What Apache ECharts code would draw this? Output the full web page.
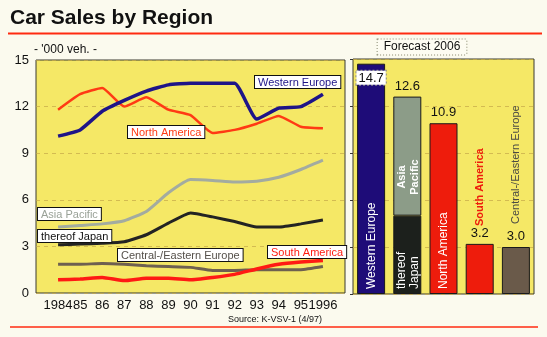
<!DOCTYPE html>
<html>
<head>
<meta charset="utf-8">
<script src="https://cdn.jsdelivr.net/npm/echarts@6/dist/echarts.min.js"></script>
<style>
html,body{margin:0;padding:0;background:#fbfaee;}
#c{width:547px;height:337px;}
</style>
</head>
<body>
<div id="c"></div>
<script>
// ---- data ----
const years = [1984, 1985, 1986, 1987, 1988, 1989, 1990, 1991, 1992, 1993, 1994, 1995, 1996];
const westernEurope = [10.1, 10.5, 11.7, 12.4, 13.0, 13.4, 13.5, 13.5, 13.5, 11.2, 11.9, 12.0, 12.8];
const northAmerica = [11.8, 12.8, 13.2, 12.0, 12.6, 11.8, 11.45, 10.3, 10.5, 10.9, 11.4, 10.7, 10.6];
const asiaPacific = [4.25, 4.35, 4.45, 4.65, 5.25, 6.45, 7.3, 7.25, 7.15, 7.2, 7.45, 7.95, 8.55];
const thereofJapan = [3.1, 3.15, 3.2, 3.3, 3.75, 4.5, 5.15, 4.9, 4.6, 4.25, 4.25, 4.45, 4.7];
const centralEastern = [1.85, 1.85, 1.9, 1.85, 1.75, 1.7, 1.65, 1.45, 1.45, 1.5, 1.5, 1.5, 1.7];
const southAmerica = [0.85, 0.9, 1.0, 0.8, 0.95, 0.95, 0.85, 1.0, 1.2, 1.55, 1.85, 2.0, 2.1];
const yTicks = [0, 3, 6, 9, 12, 15];

const forecastRegions = ['Western Europe', 'Asia Pacific', 'North America', 'South America', 'Central-/Eastern Europe'];
const forecast2006 = [14.7, 12.6, 10.9, 3.2, 3.0];
const forecastJapan2006 = 5.0;

// ---- styling ----
const FONT = 'Liberation Sans, Arial, sans-serif';
const YELLOW = '#f5e866';
const C = {
  we: '#1e1488', na: '#ff3a14', ap: '#a3aba0', jp: '#232323', ce: '#6e6050', sa: '#ff1a14',
  weBar: '#1e0c78', apBar: '#8c9c88', jpBar: '#1c201c', naBar: '#ee1c0c', saBar: '#ee1c0c', ceBar: '#6a5a4a'
};

const pairs = arr => arr.map((v, i) => [years[i], v]);
const lineSeries = (name, data, color, width) => ({
  name, type: 'line', xAxisIndex: 0, yAxisIndex: 0, data: pairs(data),
  symbol: 'none', smooth: 0.15, lineStyle: { color, width }, z: 3
});

const baseVals = forecast2006.map((v, i) => i === 1 ? forecastJapan2006 : v);
const baseColors = [C.weBar, C.jpBar, C.naBar, C.saBar, C.ceBar];
const topVals = forecast2006.map((v, i) => i === 1 ? +(v - forecastJapan2006).toFixed(1) : null);
const fmt = v => v.toFixed(1);

const chart = echarts.init(document.getElementById('c'), null, { renderer: 'canvas' });

const boxLabel = (text, x, y, color) => ({
  type: 'text', x, y, z: 10,
  style: {
    text, fill: color, font: '11px ' + FONT, textAlign: 'left', textVerticalAlign: 'top',
    backgroundColor: '#ffffff', borderColor: '#111', borderWidth: 1, padding: [1, 3, 0, 3]
  }
});
const rotLabel = (text, x, y, color, weight, align, size) => ({
  type: 'text', x, y, rotation: Math.PI / 2, z: 10,
  style: {
    text, fill: color, font: (weight || 'normal') + ' ' + (size || 12) + 'px ' + FONT,
    textAlign: align || 'left', textVerticalAlign: 'middle', lineHeight: 13
  }
});

chart.setOption({
  backgroundColor: '#fbfaee',
  animation: false,
  textStyle: { fontFamily: FONT },
  grid: [
    { left: 36, top: 60, width: 309, height: 233, show: true, backgroundColor: YELLOW, borderColor: '#3a3a30', borderWidth: 1 },
    { left: 353, top: 59, width: 181, height: 235, show: true, backgroundColor: YELLOW, borderColor: '#3a3a30', borderWidth: 1 }
  ],
  xAxis: [
    {
      type: 'value', gridIndex: 0, min: 1983, max: 1997, interval: 1,
      axisLine: { show: false }, axisTick: { show: false }, splitLine: { show: false },
      axisLabel: {
        color: '#111', fontSize: 13, margin: 6, hideOverlap: false,
        formatter: v => (v === years[0] || v === years[years.length - 1]) ? String(v) : (years.indexOf(v) >= 0 ? String(v).slice(2) : '')
      }
    },
    {
      type: 'category', gridIndex: 1, data: forecastRegions, barCategoryGap: '22%',
      axisLine: { show: false }, axisTick: { show: false }, axisLabel: { show: false }
    }
  ],
  yAxis: [
    {
      type: 'value', gridIndex: 0, min: yTicks[0], max: yTicks[yTicks.length - 1], interval: 3,
      axisLine: { show: false }, axisTick: { show: false },
      axisLabel: { color: '#111', fontSize: 13, margin: 7 },
      splitLine: { show: true, lineStyle: { color: '#c4a848', width: 1, type: [4, 4], opacity: 0.7 } }
    },
    {
      type: 'value', gridIndex: 1, min: 0, max: 15, interval: 3,
      axisLine: { show: false }, axisTick: { show: true, length: 3, lineStyle: { color: '#333' } },
      axisLabel: { show: false },
      splitLine: { show: true, lineStyle: { color: '#c4a848', width: 1, type: [4, 4], opacity: 0.7 } }
    }
  ],
  series: [
    lineSeries('Central-/Eastern Europe', centralEastern, C.ce, 3),
    lineSeries('South America', southAmerica, C.sa, 3.5),
    lineSeries('thereof Japan', thereofJapan, C.jp, 3),
    lineSeries('Asia Pacific', asiaPacific, C.ap, 3),
    lineSeries('North America', northAmerica, C.na, 2.5),
    lineSeries('Western Europe', westernEurope, C.we, 3.5),
    {
      type: 'bar', xAxisIndex: 1, yAxisIndex: 1, stack: 'f', barWidth: 28,
      data: baseVals.map((v, i) => {
        const item = { value: v, itemStyle: { color: baseColors[i], borderColor: '#1a1a1a', borderWidth: 1 } };
        if (i === 0) {
          item.label = {
            show: true, position: 'insideTop', distance: 7, formatter: fmt(forecast2006[0]),
            color: '#111', fontSize: 13, backgroundColor: '#fff', padding: [1, 2, 0, 2],
            borderColor: '#888', borderWidth: 1, borderType: 'dotted'
          };
        } else if (i === 1) {
          item.label = { show: false };
        } else {
          item.label = { show: true, position: 'top', distance: 4, formatter: fmt(forecast2006[i]), color: '#111', fontSize: 13 };
        }
        return item;
      })
    },
    {
      type: 'bar', xAxisIndex: 1, yAxisIndex: 1, stack: 'f', barWidth: 28,
      itemStyle: { color: C.apBar, borderColor: '#1a1a1a', borderWidth: 1 },
      label: { show: true, position: 'top', distance: 4, color: '#111', fontSize: 13, formatter: p => fmt(forecast2006[p.dataIndex]) },
      data: topVals
    }
  ],
  graphic: [
    { type: 'text', x: 10, y: 8, style: { text: 'Car Sales by Region', fill: '#111', font: 'bold 21px ' + FONT, textVerticalAlign: 'top' } },
    { type: 'line', shape: { x1: 8, y1: 33.5, x2: 542, y2: 33.5 }, style: { stroke: '#ff2a10', lineWidth: 2 } },
    { type: 'line', shape: { x1: 10, y1: 327, x2: 538, y2: 327 }, style: { stroke: '#ff2a10', lineWidth: 1.5 } },
    { type: 'text', x: 34, y: 50, style: { text: "- '000 veh. -", fill: '#111', font: '12px ' + FONT, textVerticalAlign: 'middle' } },
    { type: 'text', x: 275, y: 320, style: { text: 'Source: K-VSV-1 (4/97)', fill: '#111', font: '9px ' + FONT, textAlign: 'center', textVerticalAlign: 'middle' } },
    {
      type: 'text', x: 422, y: 47, z: 10,
      style: {
        text: 'Forecast 2006', fill: '#111', font: '12px ' + FONT, textAlign: 'center', textVerticalAlign: 'middle',
        backgroundColor: '#fdfcf2', borderColor: '#8a8a70', borderWidth: 1, borderDash: [1, 2], padding: [2, 6, 1, 6]
      }
    },
    boxLabel('Western Europe', 255, 76, C.we),
    boxLabel('North America', 128, 126, C.na),
    boxLabel('Asia Pacific', 38, 208, '#9aa298'),
    boxLabel('thereof Japan', 38, 230, '#111'),
    boxLabel('Central-/Eastern Europe', 118, 249, '#55504a'),
    boxLabel('South America', 268, 246, '#ff1a10'),
    rotLabel('Western Europe', 372, 289, '#fff'),
    rotLabel('thereof\nJapan', 408, 289, '#fff'),
    rotLabel('Asia\nPacific', 408, 177, '#fff', 'bold', 'center', 11),
    rotLabel('North America', 444, 289, '#fff'),
    rotLabel('South America', 480, 226, '#ee1c0c', 'bold', 'left', 11),
    rotLabel('Central-/Eastern Europe', 516, 224, '#4a4a44', 'normal', 'left', 11)
  ]
});
</script>
</body>
</html>
